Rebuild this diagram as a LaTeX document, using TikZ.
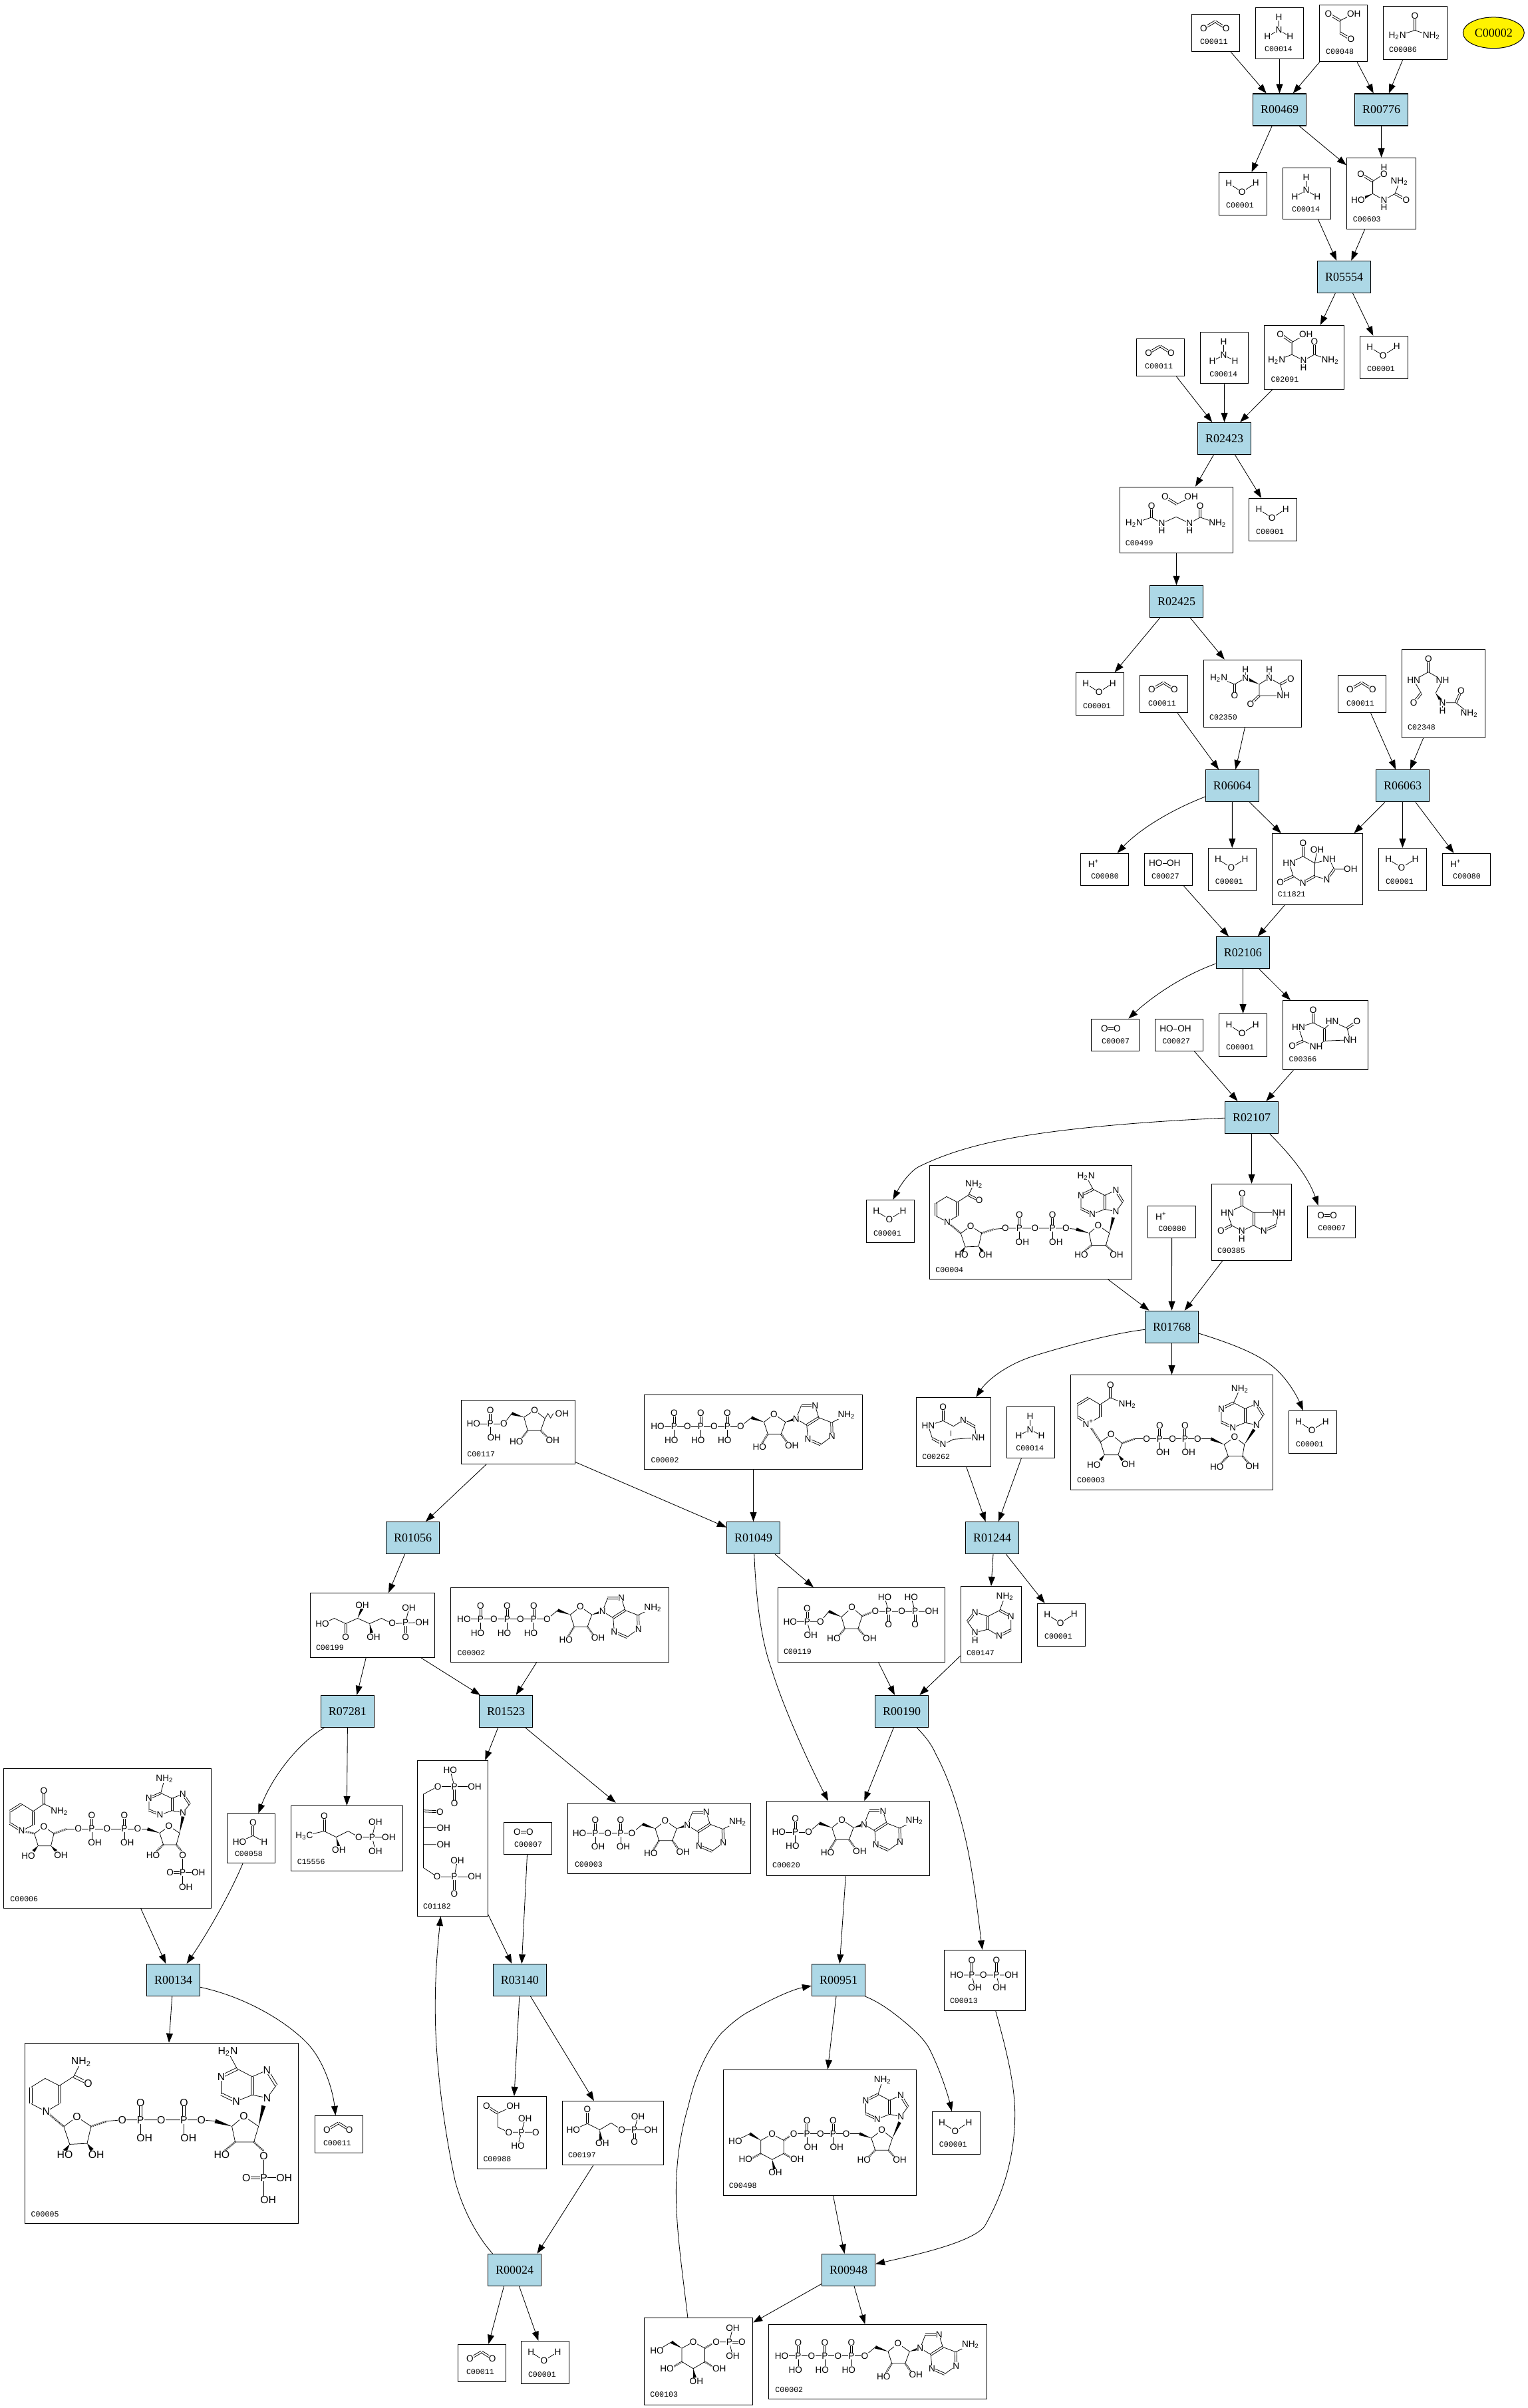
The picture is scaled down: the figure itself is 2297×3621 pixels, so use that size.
\documentclass[tikz,border=0pt]{standalone}
\usepackage{fontspec}
\setmainfont{Liberation Serif}
\newfontfamily\atomfont{Liberation Sans}
\newfontfamily\labfont{Liberation Mono}
\usetikzlibrary{arrows.meta,calc,shapes.geometric}
\definecolor{rxnblue}{RGB}{173,216,230}
\newcounter{atm}
\def\molpt{6.8}
\tikzset{
 rxn/.style={draw,fill=rxnblue,line width=0.6pt,minimum width=40pt,minimum height=24pt,inner sep=0pt,font=\fontsize{9}{9}\selectfont},
 cpd/.style={draw,fill=white,line width=0.55pt,inner sep=0pt},
 cplab/.style={anchor=west,inner sep=0pt,font=\labfont\fontsize{5.8}{5.8}\selectfont},
 atom/.style={inner sep=0.15pt,fill=white,font=\atomfont\fontsize{\molpt}{\molpt}\selectfont},
 bond/.style={line width=0.38pt},
 hashb/.style={line width=1.4pt,dash pattern=on 0.3pt off 0.5pt},
 edge/.style={line width=0.42pt,-{Triangle[length=7pt,width=5pt]}},
 target/.style={draw,fill=yellow,ellipse,line width=0.5pt,minimum width=46pt,minimum height=23.4pt,inner sep=0pt,font=\fontsize{9}{9}\selectfont}
}
\def\At(#1)#2{\stepcounter{atm}\node[atom] (at\arabic{atm}) at (#1) {#2};}
\def\Db(#1)(#2){\draw[bond] ($(#1)!0.75pt!90:(#2)$)--($(#2)!0.75pt!-90:(#1)$) ($(#1)!0.75pt!-90:(#2)$)--($(#2)!0.75pt!90:(#1)$);}
\def\Wd(#1)(#2){\fill ($(#2)!1.2pt!90:(#1)$)--($(#2)!1.2pt!-90:(#1)$)--(#1)--cycle;}
\def\Hs(#1)(#2){\draw[hashb] (#1)--(#2);}
\newcommand\Cpd[9]{%
 \pgfmathsetmacro\cw{(#4-#2)*0.5}\pgfmathsetmacro\ch{(#5-#3)*0.5}%
 \pgfmathsetmacro\cx{(#2+#4)/2}\pgfmathsetmacro\cy{(#3+#5)/2}%
 \node[cpd,minimum width=\cw pt,minimum height=\ch pt] (#1) at (\cx,\cy) {};
 \begin{scope}[shift={(#2,#3)}]
 #9
 \node[cplab] (lab#1) at (#7,#8) {#6};
 \end{scope}}
\newcommand\Rxn[3]{\node[rxn] (#1) at (#2,#3) {#1};}
\newcommand\Wat[3]{\pgfmathsetmacro\xb{#2+72}\pgfmathsetmacro\yb{#3+64}%
 \Cpd{#1}{#2}{#3}{\xb}{\yb}{C00001}{10.2}{49.8}{\draw[bond] (14.8,16.7)--(34.6,29.3)--(55.2,16);
 \At(14.8,16.7){H}\At(34.6,29.3){O}\At(55.2,16){H}}}
\newcommand\CCO[3]{\pgfmathsetmacro\xb{#2+72}\pgfmathsetmacro\yb{#3+56.3}%
 \Cpd{#1}{#2}{#3}{\xb}{\yb}{C00011}{12.2}{41.7}{\Db(18,21.3)(35.4,11)\Db(35.4,11)(51.8,21.3)
 \At(18,21.3){O}\At(51.8,21.3){O}}}
\newcommand\NHt[3]{\pgfmathsetmacro\xb{#2+72}\pgfmathsetmacro\yb{#3+77.2}%
 \Cpd{#1}{#2}{#3}{\xb}{\yb}{C00014}{13.3}{62.7}{\draw[bond] (35,14.7)--(35,34) (17.9,43.7)--(35,34)--(51.8,43.7);
 \At(35,14.7){H}\At(35,34){N}\At(17.9,43.7){H}\At(51.8,43.7){H}}}
\newcommand\Hyp[3]{\pgfmathsetmacro\xb{#2+72}\pgfmathsetmacro\yb{#3+48.2}%
 \Cpd{#1}{#2}{#3}{\xb}{\yb}{C00080}{15.3}{33.9}{\At(19.8,15.5){H\textsuperscript{+}}}}
\newcommand\Oxy[3]{\pgfmathsetmacro\xb{#2+72}\pgfmathsetmacro\yb{#3+48.2}%
 \Cpd{#1}{#2}{#3}{\xb}{\yb}{C00007}{15.3}{33.7}{\Db(20,14.7)(39,14.7)\At(20,14.7){O}\At(39,14.7){O}}}
\newcommand\Per[3]{\pgfmathsetmacro\xb{#2+72}\pgfmathsetmacro\yb{#3+48.2}%
 \Cpd{#1}{#2}{#3}{\xb}{\yb}{C00027}{10.4}{33.9}{\draw[bond] (17,14.7)--(42,14.7);\At(17,14.7){HO}\At(44,14.7){OH}}}
% phosphate with =O up
\newcommand\PUp[4]{\pgfmathsetmacro\pya{#2-20}\pgfmathsetmacro\pyb{#2+20.6}\pgfmathsetmacro\pxb{#1+#4}%
 \Db(#1,\pya)(#1,#2)
 \draw[bond] (#1,#2)--(#1,\pyb);
 \At(#1,#2){P}\At(#1,\pya){O}\At(\pxb,\pyb){#3}}
% flat adenine + ribose, origin = ring O
\newcommand\AMPcore{%
 \draw[bond] (0,0)--(-15,12)--(-9.3,30)--(10.7,30)--(17.3,12)--cycle;
 \Wd(-15,12)(-34,5.3)
 \draw[bond] (-34,5.3)--(-50,18.7);
 \Hs(-9.3,30)(-18,44)\Hs(10.7,30)(20,43)
 \Wd(17.3,12)(33.3,7)
 \draw[bond] (33.3,7)--(41,-13) (61.7,-13)--(67.3,5.3) (49.3,16.7)--(33.3,7) (49.3,16.7)--(51,37.7) (70,46)--(87.3,33.3) (86.7,12.7)--(67.3,5.3) (86.7,12.7)--(109,1.7);
 \Db(41,-13)(61.7,-13)\Db(67.3,5.3)(49.3,16.7)\Db(51,37.7)(70,46)\Db(87.3,33.3)(86.7,12.7)
 \At(0,0){O}\At(-50,18.7){O}\At(-21.7,49.3){HO}\At(26.7,47){OH}
 \At(33.3,7){N}\At(61.7,-13){N}\At(51,37.7){N}\At(87.3,33.3){N}\At(109,1.7){NH\textsubscript{2}}}
% upright adenine, origin = N9
\newcommand\AdeUp[3]{%
 \draw[bond] (0,0)--(10.5,-14.3) (-0.2,-31.7)--(-17,-24.3) (-17,-3.3)--(0,0) (-17,-3.3)--(-35.5,4) (-52.7,-4.3)--(-52.7,-24.3) (-34.3,-33.3)--(-17,-24.3) (-34.3,-33.3)--(#2,#3);
 \Db(10.5,-14.3)(-0.2,-31.7)\Db(-17,-24.3)(-17,-3.3)\Db(-35.5,4)(-52.7,-4.3)\Db(-52.7,-24.3)(-34.3,-33.3)
 \At(0,0){N}\At(-0.2,-31.7){N}\At(-35.5,4){N}\At(-52.7,-24.3){N}\At(#2,#3){#1}}
\newcommand\NADHbody[1]{%
 \draw[bond] (58.2,44.3)--(66.6,27.7) (58.2,44.3)--(41.7,55) (41.7,75.7)--(26.4,84.7)--(9.2,75.7) (9.2,56.7)--(25.3,46.7)--(41.7,55);
 \Db(58.2,44.3)(74.6,52.3)\Db(41.7,55)(41.7,75.7)\Db(9.2,75.7)(9.2,56.7)
 \draw[bond] (61.6,90.7)--(46.7,102)--(53.5,122.3)--(73.5,121.3)--(78,101.7)--cycle;
 \Hs(26.4,84.7)(46.7,102)\Hs(78,101.7)(96.4,95.7)
 \Wd(53.5,122.3)(48,130)\Wd(73.5,121.3)(79,129)
 \draw[bond] (96.4,95.7)--(113.7,94.3)--(204.7,94.3)--(220.4,95.7);
 \Wd(239.6,101.7)(220.4,95.7)
 \draw[bond] (253.3,90)--(239.6,101.7)--(243.4,119.7)--(264.8,119.7)--(270.2,101.7)--cycle;
 \Hs(243.4,119.7)(231,130)\Hs(264.8,119.7)(276,130)
 \Wd(270.2,101.7)(276,78)
 \At(66.6,27.7){NH\textsubscript{2}}\At(74.6,52.3){O}\At(26.4,84.7){N}\At(61.6,90.7){O}
 \At(48,134){HO}\At(84,134){OH}
 \At(113.7,94.3){O}\At(158.4,94.3){O}\At(204.7,94.3){O}
 \PUp{134.7}{94.3}{OH}{4.6}\PUp{184.5}{94.3}{OH}{5.3}
 \At(253.3,90){O}\At(228,134){HO}\At(280.9,134){#1}
 \begin{scope}[shift={(280,69)}]\AdeUp{H\textsubscript{2}N}{-45}{-53}\end{scope}}
\begin{document}
\begin{tikzpicture}[x=0.5pt,y=-0.5pt]
\path[use as bounding box,fill=white] (0,0) rectangle (2297,3621);
% ---------- top
\CCO{C00011a}{1791.4}{21.3}
\NHt{C00014a}{1887.4}{11.3}
\Cpd{C00048}{1983.3}{7.3}{2055.7}{92.7}{C00048}{9.5}{70.7}{%
 \Db(13.7,13.3)(31.2,23.7)\Db(31.2,42)(47.6,52)
 \draw[bond] (52,13.3)--(31.2,23.7)--(31.2,42);
 \At(13.7,13.3){O}\At(52,13.3){OH}\At(47.6,52){O}}
\Cpd{C00086}{2079.3}{9.3}{2175.6}{89.7}{C00086}{8.4}{65.7}{%
 \Db(47.6,14.7)(47.6,36.3)
 \draw[bond] (21.3,44.7)--(47.6,36.3)--(72.4,44.7);
 \At(47.6,14.7){O}\At(21.3,44.7){H\textsubscript{2}N}\At(72.4,44.7){NH\textsubscript{2}}}
\node[target] (C00002) at (2245.3,49.3) {C00002};
\Rxn{R00469}{1923.5}{165}
\Rxn{R00776}{2076.5}{165}
\Wat{C00001a}{1832.5}{259.3}
\NHt{C00014b}{1928.5}{252.3}
\Cpd{C00603}{2024.4}{237.3}{2128.8}{344.7}{C00603}{9.1}{92.7}{%
 \draw[bond] (56,14.3)--(56,24.3)--(39.2,35.3)--(39.2,54)--(56,63.3)--(72.7,54)--(79.2,36) (56,63.3)--(56,74.3);
 \Db(21.3,24.3)(39.2,35.3)\Db(72.7,54)(89.5,63.3)\Wd(39.2,54)(24,61)
 \At(56,14.3){H}\At(56,24.3){O}\At(21.3,24.3){O}\At(17,63.3){HO}\At(56,63.3){N}\At(56,74.3){H}
 \At(79.2,36){NH\textsubscript{2}}\At(89.5,63.3){O}}
\Rxn{R05554}{2020.5}{416.5}
\CCO{C00011b}{1708.6}{509.4}
\NHt{C00014c}{1804.6}{499.6}
\Cpd{C02091}{1900.6}{489.4}{2020.6}{585.3}{C02091}{9.5}{81.6}{%
 \Db(24,13)(41.5,25.3)\Db(75.3,24.5)(75.3,43.7)
 \draw[bond] (62.7,13)--(41.5,25.3)--(41.5,43.7)--(18.5,52.7) (41.5,43.7)--(59,52.7)--(75.3,43.7)--(99,52.7) (59,52.7)--(59,63.3);
 \At(24,13){O}\At(62.7,13){OH}\At(75.3,24.5){O}\At(18.5,52.7){H\textsubscript{2}N}\At(59,52.7){N}\At(59,63.3){H}\At(99,52.7){NH\textsubscript{2}}}
\Wat{C00001b}{2044.5}{505.3}
\Rxn{R02423}{1840.5}{659.4}
\Cpd{C00499}{1683.3}{732.2}{1853.7}{831.4}{C00499}{8.1}{84.9}{%
 \Db(68,15)(85.7,26)\draw[bond] (85.7,26)--(107.3,15);
 \Db(47.8,28.2)(47.8,45.7)\Db(120.8,28.2)(120.8,45.7)
 \draw[bond] (21.6,54.7)--(47.8,45.7)--(63.1,54.7)--(84.8,45)--(105,54.7)--(120.8,45.7)--(147,54.7) (63.1,54.7)--(63.1,66) (105,54.7)--(105,66);
 \At(68,15){O}\At(107.3,15){OH}\At(47.8,28.2){O}\At(120.8,28.2){O}\At(21.6,54.7){H\textsubscript{2}N}\At(63.1,54.7){N}\At(63.1,66){H}\At(105,54.7){N}\At(105,66){H}\At(147,54.7){NH\textsubscript{2}}}
\Wat{C00001c}{1877.6}{749.4}
\Rxn{R02425}{1768.5}{904.5}
\Wat{C00001d}{1617.5}{1011.4}
\CCO{C00011c}{1713.5}{1015.5}
\Cpd{C02350}{1809.6}{992.2}{1956.5}{1093.5}{C02350}{8.1}{86.5}{%
 \Db(46.4,36.7)(46.4,53.9)\Db(115,36.7)(130.7,28.2)\Db(83.4,53.9)(70.3,66.5)
 \draw[bond] (22.5,27.3)--(46.4,36.7)--(62.7,27.3) (62.7,14.3)--(62.7,27.3) (98.3,14.3)--(98.3,27.3)--(83.4,36.7)--(83.4,53.9)--(119.5,53.9)--(115,36.7)--(98.3,27.3);
 \Wd(83.4,36.7)(66,29)
 \At(22.5,27.3){H\textsubscript{2}N}\At(46.4,53.9){O}\At(62.7,27.3){N}\At(62.7,14.3){H}\At(98.3,27.3){N}\At(98.3,14.3){H}\At(130.7,28.2){O}\At(119.5,53.9){NH}\At(70.3,66.5){O}}
\CCO{C00011d}{2011.5}{1015.5}
\Cpd{C02348}{2107.6}{976.7}{2232.5}{1109.4}{C02348}{8.1}{117}{%
 \Db(39.7,14.3)(39.7,33.9)\Db(28.9,65.7)(17.6,79.6)\Db(81,80)(88.8,62.4)
 \draw[bond] (17.6,46)--(39.7,33.9)--(60.9,46)--(50.5,65.7) (17.6,46)--(28.9,65.7) (60.9,80)--(81,80)--(101,96.3) (60.9,80)--(60.9,92.2);
 \Wd(50.5,65.7)(58,76)
 \At(39.7,14.3){O}\At(17.6,46){HN}\At(60.9,46){NH}\At(17.6,79.6){O}\At(60.9,80){N}\At(60.9,92.2){H}\At(88.8,62.4){O}\At(101,96.3){NH\textsubscript{2}}}
\Rxn{R06064}{1852.4}{1181.6}
\Rxn{R06063}{2108.5}{1181.6}
\Hyp{C00080a}{1624.3}{1283.3}
\Per{C00027a}{1720.3}{1283.3}
\Wat{C00001e}{1816.3}{1275.5}
\Cpd{C11821}{1912.4}{1253.5}{2048.5}{1360.4}{C11821}{8.1}{91.4}{%
 \Db(46.4,13.9)(46.4,34.3)\Db(31.6,64)(12.2,73)\Db(46.4,73.9)(64,64)\Db(93.3,53.5)(82,69)
 \draw[bond] (25.7,44)--(46.4,34.3)--(64,44.5)--(64,64)--(82,69) (25.7,44)--(31.6,64)--(46.4,73.9) (64,44.5)--(67.6,24) (64,44.5)--(85.7,38.4)--(93.3,53.5)--(118,53.5);
 \At(46.4,13.9){O}\At(25.7,44){HN}\At(12.2,73){O}\At(46.4,73.9){N}\At(67.6,24){OH}\At(85.7,38.4){NH}\At(118,53.5){OH}\At(82,69){N}}
\Wat{C00001f}{2072.4}{1275.5}
\Hyp{C00080b}{2168.4}{1283.3}
\Rxn{R02106}{1868.4}{1432.6}
\Oxy{C00007a}{1640.5}{1532.2}
\Per{C00027b}{1736.5}{1532.2}
\Wat{C00001g}{1832.6}{1524.5}
\Cpd{C00366}{1928.6}{1504.5}{2056.6}{1608.6}{C00366}{8.6}{88.6}{%
 \Db(45.5,14.3)(45.5,33.5)\Db(30.2,60.8)(14,68.2)\Db(96.5,41.6)(111.4,31.4)\Db(62.7,60.8)(62.7,42.4)
 \draw[bond] (23.4,40.4)--(45.5,33.5)--(62.7,42.4)--(74,31.4)--(96.5,41.6)--(101,59.2)--(62.7,60.8)--(50,69)--(30.2,60.8)--(23.4,40.4);
 \At(45.5,14.3){O}\At(23.4,40.4){HN}\At(14,68.2){O}\At(50,69){NH}\At(74,31.4){HN}\At(111.4,31.4){O}\At(101,59.2){NH}}
\Rxn{R02107}{1881.5}{1680.4}
\Wat{C00001h}{1302.4}{1804.4}
\Cpd{C00004}{1397.6}{1752.7}{1701.5}{1923.3}{C00004}{8.4}{156.7}{\NADHbody{OH}}
\Hyp{C00080c}{1725.6}{1813.3}
\Cpd{C00385}{1821.3}{1780.3}{1941.8}{1895.3}{C00385}{8.4}{100.7}{%
 \Db(46,14.7)(46,33)\Db(30.2,62.3)(14.2,70.3)\Db(63.1,62.3)(63.1,43)\Db(96.4,62.3)(78.4,70.7)
 \draw[bond] (23.7,43)--(46,33)--(63.1,43)--(101,43)--(96.4,62.3) (23.7,43)--(30.2,62.3)--(45.5,70.7)--(63.1,62.3)--(78.4,70.7) (45.5,70.7)--(45.5,82);
 \At(46,14.7){O}\At(23.7,43){HN}\At(14.2,70.3){O}\At(45.5,70.7){N}\At(45.5,82){H}\At(101,43){NH}\At(78.4,70.7){N}}
\Oxy{C00007b}{1965.6}{1813.3}
\Rxn{R01768}{1761.5}{1995.3}
\Cpd{C00262}{1377.6}{2101.4}{1489.5}{2205.5}{C00262}{8.3}{89.4}{%
 \Db(40,14.7)(40,35)\Db(24,61.6)(40,70.6)\Db(70.4,33.9)(87.8,44)
 \draw[bond] (17.8,42.4)--(40,35)--(55.8,43.3)--(70.4,33.9) (87.8,44)--(90,60.4)--(55.8,62.9)--(40,70.6) (17.8,42.4)--(24,61.6) (52,50)--(52,58);
 \At(40,14.7){O}\At(17.8,42.4){HN}\At(40,70.6){N}\At(70.4,33.9){N}\At(93,60.4){NH}}
\NHt{C00014d}{1513.6}{2115.3}
\Cpd{C00003a}{1609.3}{2067.6}{1913.7}{2240.6}{C00003}{9.5}{158.4}{%
 \draw[bond] (26.5,73)--(44.3,62.9) (44.3,44.5)--(27.3,34.3) (10.7,44.5)--(10.7,62.9) (44.3,44.5)--(60,34.3)--(85.4,44.5);
 \Db(44.3,62.9)(44.3,44.5)\Db(27.3,34.3)(10.7,44.5)\Db(10.7,62.9)(26.5,73)\Db(60,34.3)(60,14.7)
 \Hs(26.5,73)(45,100.8)\Hs(77.5,102.4)(96.5,96)
 \draw[bond] (60.9,89.4)--(45,100.8)--(51,120)--(71.6,120)--(77.5,102.4)--cycle;
 \Wd(51,120)(45,128)\Wd(71.6,120)(78,128)
 \draw[bond] (96.5,96)--(211,96);\Wd(231,104.5)(211,96)
 \draw[bond] (246.7,93.5)--(231,104.5)--(236.9,122)--(258.6,122)--(261.4,104.5)--cycle;
 \Hs(236.9,122)(226,133)\Hs(258.6,122)(268,133)\Wd(261.4,104.5)(276,82)
 \At(60,14.7){O}\At(85.4,44.5){NH\textsubscript{2}}\At(26.5,73){N\textsuperscript{+}}\At(60.9,89.4){O}\At(35,135){HO}\At(87,134){OH}
 \At(114.3,96){O}\At(153.4,96){O}\At(191,96){O}
 \PUp{134}{96}{OH}{5}\PUp{172}{96}{OH}{5.5}
 \At(246.7,93.5){O}\At(220,138.4){HO}\At(273.2,137){OH}
 \begin{scope}[shift={(279.4,75)}]\AdeUp{NH\textsubscript{2}}{-24.8}{-54.2}\end{scope}}
\Wat{C00001i}{1937.5}{2121.4}
\Rxn{R01244}{1491.6}{2312.6}
\Cpd{C00147}{1444.3}{2385.5}{1535.7}{2500.2}{C00147}{8.3}{100.4}{%
 \draw[bond] (66.4,15)--(58.5,36) (75.5,45)--(75.5,65.3) (57.7,74.7)--(41,64.5) (58.5,36)--(41,45) (41,45)--(21.4,38.8) (10,53)--(21.4,69.4)--(41,64.5) (21.4,69.4)--(21.4,81.6);
 \Db(58.5,36)(75.5,45)\Db(75.5,65.3)(57.7,74.7)\Db(41,64.5)(41,45)\Db(21.4,38.8)(10,53)
 \At(66.4,15){NH\textsubscript{2}}\At(75.5,45){N}\At(57.7,74.7){N}\At(21.4,38.8){N}\At(21.4,69.4){N}\At(21.4,81.6){H}}
\Wat{C00001j}{1559.5}{2411.2}
% ---------- middle
\Cpd{C00117}{693.5}{2105.2}{864.3}{2201.3}{C00117}{8.4}{81.9}{%
 \begin{scope}[shift={(110.2,15.3)}]
 \draw[bond] (0,0)--(-16,10.7)--(-10.5,30.6)--(9.2,30.6)--(15.6,12.6)--cycle;
 \Wd(-16,10.7)(-34.4,5)\draw[bond] (-34.4,5)--(-46.4,20.7)--(-92,20.7) (15.6,12.6)--(20,5)--(24,12)--(28,5);
 \Hs(-10.5,30.6)(-20,43)\Hs(9.2,30.6)(20,42)
 \At(0,0){O}\At(-46.4,20.7){O}\At(-92,20.7){HO}\At(-27.5,47){HO}\At(27,45.5){OH}\At(41,5){OH}
 \PUp{-66.6}{20.7}{OH}{5.6}
 \end{scope}}
\Cpd{C00002a}{968.5}{2097.6}{1296.4}{2209.3}{C00002}{9.8}{97.9}{%
 \begin{scope}[shift={(195,28.8)}]
 \draw[bond] (-50,18.7)--(-175,18.7);
 \AMPcore
 \At(-90,18.7){O}\At(-130,18.7){O}\At(-175,18.7){HO}
 \PUp{-70}{18.7}{HO}{-4.3}\PUp{-110}{18.7}{HO}{-4.3}\PUp{-150}{18.7}{HO}{-4.3}
 \end{scope}}
\Rxn{R01056}{620.5}{2312.5}
\Rxn{R01049}{1132.5}{2312.5}
\Cpd{C00199}{466.6}{2395.5}{653.7}{2492.5}{C00199}{8}{82}{%
 \draw[bond] (18,46)--(36,38)--(53,46)--(71,38)--(89,46)--(107,38)--(123,46)--(168,44) (143,44)--(148,24);
 \Db(53,46)(53,64)\Db(143,44)(143,64)\Wd(71,38)(78,22)\Wd(89,46)(92,60)
 \At(18,46){HO}\At(53,66){O}\At(78,18){OH}\At(95,66){OH}\At(123,45){O}\At(143,44){P}\At(143,66){O}\At(168,44){OH}\At(148,22){OH}}
\Cpd{C00002b}{677.4}{2387.3}{1005.7}{2499.4}{C00002}{9.8}{97.9}{%
 \begin{scope}[shift={(195,28.8)}]
 \draw[bond] (-50,18.7)--(-175,18.7);
 \AMPcore
 \At(-90,18.7){O}\At(-130,18.7){O}\At(-175,18.7){HO}
 \PUp{-70}{18.7}{HO}{-4.3}\PUp{-110}{18.7}{HO}{-4.3}\PUp{-150}{18.7}{HO}{-4.3}
 \end{scope}}
\Cpd{C00119}{1169.3}{2387.3}{1420.7}{2499.6}{C00119}{8.3}{96.6}{%
 \begin{scope}[shift={(111.4,29.8)}]
 \draw[bond] (0,0)--(-15.7,14.3)--(-10.7,31.8)--(9.3,31.8)--(15.3,13)--cycle;
 \Wd(-15.7,14.3)(-34.7,6)\draw[bond] (-34.7,6)--(-47.3,21.2)--(-93,21.2) (-67.3,21.2)--(-62,41.6) (35.3,6)--(120,6) (55,6)--(49.3,-15) (95,6)--(89,-15);
 \Db(-67.3,21.2)(-67.3,2)\Db(55,6)(55,25.6)\Db(95,6)(95,25.6)
 \Hs(-10.7,31.8)(-20,43)\Hs(9.3,31.8)(19,43)\Hs(15.3,13)(30,7)
 \At(0,0){O}\At(-47.3,21.2){O}\At(-67.3,21.2){P}\At(-93,21.2){HO}\At(-67.3,2){O}\At(-62,41.6){OH}\At(-27.3,46.9){HO}\At(26.7,46.9){OH}
 \At(35.3,6){O}\At(55,6){P}\At(49.3,-15){HO}\At(55,25.6){O}\At(75,6){O}\At(95,6){P}\At(89,-15){HO}\At(95,25.6){O}\At(120,6){OH}
 \end{scope}}
\Rxn{R07281}{522.4}{2573.5}
\Rxn{R01523}{760.5}{2573.5}
\Rxn{R00190}{1355.5}{2573.5}
\Cpd{C15556}{437.4}{2715.5}{605.4}{2813.5}{C15556}{9}{84.5}{%
 \draw[bond] (20,45)--(50,38)--(68,47)--(86,38)--(102,47)--(147,47) (122,47)--(127,25) (122,47)--(127,68);
 \Db(50,38)(50,17)\Wd(68,47)(72,62)
 \At(20,45){H\textsubscript{3}C}\At(50,15){O}\At(72,66){OH}\At(102,47){O}\At(122,47){P}\At(127,24){OH}\At(147,47){OH}\At(127,68){OH}}
\Cpd{C00058}{341.3}{2727.3}{413.7}{2801.6}{C00058}{11.3}{60.4}{%
 \Db(39,13.9)(39,33)\draw[bond] (18.7,42.4)--(39,33)--(56,42.4);
 \At(39,13.9){O}\At(18.7,42.4){HO}\At(56,42.4){H}}
\Cpd{C00006}{5.3}{2659.6}{317.7}{2869.4}{C00006}{9.7}{196.3}{%
 \draw[bond] (27.3,93.5)--(44.7,84.5) (44.7,64)--(27,53) (9.7,64)--(9.7,82.4) (44.7,64)--(60.7,53)--(84,64);
 \Db(44.7,84.5)(44.7,64)\Db(27,53)(9.7,64)\Db(9.7,82.4)(27.3,93.5)\Db(60.7,53)(60.7,32.7)
 \Hs(27.3,93.5)(46.3,97.6)\Hs(75.7,97.6)(94.7,90.6)
 \draw[bond] (60.7,87.3)--(46.3,97.6)--(52,116)--(71.3,116)--(75.7,97.6)--cycle;
 \Wd(52,116)(45,124)\Wd(71.3,116)(79,124)
 \draw[bond] (94.7,90.6)--(216.3,90.6);\Wd(234.7,96.7)(216.3,90.6)
 \draw[bond] (248.7,86.5)--(234.7,96.7)--(240.3,114.3)--(259.7,114.3)--(264.7,96.7)--cycle;
 \Hs(240.3,114.3)(230,124)\Hs(259.7,114.3)(268,124)\Wd(264.7,96.7)(269.7,72)
 \draw[bond] (269.3,130.2)--(269.3,178) (269.3,156)--(293,156);
 \Db(269.3,156)(250.3,156)
 \At(60.7,32.7){O}\At(84,64){NH\textsubscript{2}}\At(27.3,93.5){N}\At(60.7,87.3){O}\At(37.3,131.4){HO}\At(86.3,129.8){OH}
 \At(112.3,90.6){O}\At(155.7,90.6){O}\At(201.7,90.6){O}
 \PUp{132.7}{90.6}{OH}{4.6}\PUp{181.7}{90.6}{OH}{4.3}
 \At(248.7,86.5){O}\At(224.7,130.2){HO}\At(269.3,130.2){O}\At(269.3,156){P}\At(250.3,156){O}\At(293,156){OH}\At(274,178){OH}
 \begin{scope}[shift={(269.7,66)},xscale=.97,yscale=.88]\AdeUp{NH\textsubscript{2}}{-28.4}{-58}\end{scope}}
\Rxn{R00134}{260.5}{2977.4}
\Cpd{C00005}{37.3}{3072.2}{448.7}{3343.4}{C00005}{9}{257}{%
 \def\molpt{7.9}
 \begin{scope}[shift={(-2.6,-8)},scale=1.31]\NADHbody{}\end{scope}
 \draw[bond] (359.3,170)--(359.3,236) (359.3,202.5)--(390,202.5);
 \Db(359.3,202.5)(333,202.5)
 \At(359.3,170){O}\At(359.3,202.5){P}\At(333,202.5){O}\At(390,202.5){OH}\At(366,236){OH}}
\CCO{C00011e}{473.4}{3181.4}
\Cpd{C01182}{627.5}{2647.4}{733.2}{2881.4}{C01182}{8.2}{219.7}{%
 \draw[bond] (30.7,39)--(9,50.5)--(9,161.2)--(29.6,174.7) (9,101)--(39.3,101) (9,126.3)--(39.3,126.3) (30.7,39)--(86,39) (55.7,39)--(49.3,14.7) (29.6,174.7)--(86,174.7) (55.4,174.7)--(60,150.3);
 \Db(9,75.8)(34,77)\Db(55.7,39)(55.7,64.4)\Db(55.4,174.7)(55.4,200)
 \At(49.3,14.7){HO}\At(30.7,39){O}\At(55.7,39){P}\At(86,39){OH}\At(55.7,64.4){O}\At(34,77){O}\At(39.3,101){OH}\At(39.3,126.3){OH}\At(29.6,174.7){O}\At(55.4,174.7){P}\At(60,150.3){OH}\At(86,174.7){OH}\At(55.4,200){O}}
\Cpd{C00003b}{853.2}{2711.3}{1128.6}{2817.4}{C00003}{10.4}{92.6}{%
 \begin{scope}[shift={(146.8,26.5)}]
 \draw[bond] (-50,18.7)--(-129,18.7);
 \AMPcore
 \At(-86,18.7){O}\At(-129,18.7){HO}
 \PUp{-67}{18.7}{OH}{4}\PUp{-105}{18.7}{OH}{4}
 \end{scope}}
\Cpd{C00020}{1152.3}{2708.6}{1397.7}{2820.4}{C00020}{8.4}{96.3}{%
 \begin{scope}[shift={(113.4,27.7)}]
 \draw[bond] (-50,18.7)--(-95,18.7);
 \AMPcore
 \At(-95,18.7){HO}
 \PUp{-70}{18.7}{HO}{-4.3}
 \end{scope}}
\Oxy{C00007c}{757.5}{2740.4}
\Rxn{R03140}{781.4}{2977.4}
\Rxn{R00951}{1260.5}{2977.4}
\Cpd{C00013}{1419.3}{2932.3}{1541.7}{3023.3}{C00013}{8.3}{76.7}{%
 \draw[bond] (19,37.7)--(101.3,37.7) (41.7,37.7)--(46.3,56.7) (78.7,37.7)--(83.3,56.7);
 \Db(41.7,15)(41.7,37.7)\Db(78.7,15)(78.7,37.7)
 \At(19,37.7){HO}\At(41.7,37.7){P}\At(41.7,15){O}\At(46.3,56.7){OH}\At(59,37.7){O}\At(78.7,37.7){P}\At(78.7,15){O}\At(83.3,56.7){OH}\At(101.3,37.7){OH}}
\Cpd{C00988}{717.5}{3152.4}{821.8}{3261.4}{C00988}{8.6}{94.3}{%
 \Db(14,14.7)(30.7,25.3)\draw[bond] (54,14.7)--(30.7,25.3)--(30.7,46.3)--(47.5,53.9)--(87.9,53.9) (66.4,53.9)--(71.8,33.7) (66.4,53.9)--(61,74);
 \At(14,14.7){O}\At(54,14.7){OH}\At(47.5,53.9){O}\At(66.4,53.9){P}\At(71.8,33.7){OH}\At(87.9,53.9){O}\At(61,74){HO}}
\Cpd{C00197}{845.4}{3159.6}{997.5}{3255.5}{C00197}{8.2}{81.2}{%
 \Db(37.5,12.6)(37.5,33.7)\Db(108.2,43)(108.2,61.4)\Wd(56,43)(58,58)
 \draw[bond] (16.4,43)--(37.5,33.7)--(56,43)--(73.2,32.8)--(89.3,43)--(133.2,43) (108.2,43)--(113.6,23.6);
 \At(37.5,12.6){O}\At(16.4,43){HO}\At(60,63){OH}\At(89.3,43){O}\At(108.2,43){P}\At(113.6,23.6){OH}\At(108.2,61.4){O}\At(133.2,43){OH}}
\Cpd{C00498}{1087.2}{3112.2}{1377.4}{3301.2}{C00498}{8.3}{174.9}{%
 \Wd(56.5,106.3)(40,96.3)\draw[bond] (18.2,107.4)--(40,96.3) (73.5,97)--(56.5,106.3)--(56.5,126)--(73.5,135.2)--(91,126)--(91,106.3)--cycle;
 \Hs(56.5,126)(42,134)\Hs(91,126)(103,133)\Wd(73.5,135.2)(77,150)\Hs(91,106.3)(100,100)
 \draw[bond] (106,96.3)--(204.8,96.3);\Wd(222.6,103)(204.8,96.3)
 \draw[bond] (238.4,90.8)--(222.6,103)--(228.5,121)--(248.3,121)--(254.3,103)--cycle;
 \Hs(228.5,121)(218,132)\Hs(248.3,121)(258,132)\Wd(254.3,103)(265.3,79)
 \At(18.2,107.4){HO}\At(73.5,97){O}\At(33.6,134.5){HO}\At(111,134.5){OH}\At(78.3,154.5){OH}\At(106,96.3){O}\At(146.3,96.3){O}\At(185,96.3){O}
 \PUp{126}{96.3}{OH}{5.7}\PUp{165.3}{96.3}{OH}{5.2}
 \At(238.4,90.8){O}\At(211.5,136){HO}\At(265.3,136){OH}
 \begin{scope}[shift={(267,70.4)}]\AdeUp{NH\textsubscript{2}}{-27.4}{-54.8}\end{scope}}
\Wat{C00001k}{1401.3}{3175.3}
\Rxn{R00024}{773.5}{3413.4}
\Rxn{R00948}{1275.5}{3413.4}
\CCO{C00011f}{688.4}{3525.4}
\Wat{C00001l}{783.4}{3520.4}
\Cpd{C00103}{968.6}{3485.4}{1131.5}{3616.5}{C00103}{8.3}{115.6}{%
 \Wd(56.5,45.6)(40.7,36.3)\draw[bond] (19,49.3)--(40.7,36.3) (73.5,36.3)--(56.5,45.6)--(56.5,66)--(73.5,76.3)--(91,66)--(91,45.6)--cycle;
 \Hs(56.5,66)(43,74)\Hs(91,66)(104,74)\Wd(73.5,76.3)(76,90)\Hs(91,45.6)(102,39)
 \draw[bond] (108,36.3)--(127.7,36.3) (132.9,15.6)--(127.7,36.3)--(132.9,57.4);
 \Db(127.7,36.3)(146.7,36.3)
 \At(19,49.3){HO}\At(73.5,36.3){O}\At(34,76){HO}\At(112.7,76){OH}\At(78.3,95.6){OH}\At(108,36.3){O}\At(127.7,36.3){P}\At(146.7,36.3){O}\At(132.9,15.6){OH}\At(132.9,57.4){OH}}
\Cpd{C00002c}{1155.2}{3495.4}{1483.8}{3607.2}{C00002}{9.8}{97.9}{%
 \begin{scope}[shift={(194.8,28.6)}]
 \draw[bond] (-50,18.7)--(-175,18.7);
 \AMPcore
 \At(-90,18.7){O}\At(-130,18.7){O}\At(-175,18.7){HO}
 \PUp{-70}{18.7}{HO}{-4.3}\PUp{-110}{18.7}{HO}{-4.3}\PUp{-150}{18.7}{HO}{-4.3}
 \end{scope}}
% ---------- connectors
\newcommand\EE[4]{\draw[edge] ($(#1.south)+(#2,0)$) -- ($(#3.north)+(#4,0)$);}
\EE{C00011a}{22.8}{R00469}{-19.8}
\EE{C00014a}{0}{R00469}{0}
\EE{C00048}{-35.8}{R00469}{20.2}
\EE{C00048}{20.5}{R00776}{-11.7}
\EE{C00086}{-18.9}{R00776}{11.2}
\EE{R00469}{-11.4}{C00001a}{13}
\draw[edge] ($(R00469.south)+(29.7,0)$) -- ($(C00603.west)+(0,-42.7)$);
\EE{R00776}{0}{C00603}{0}
\EE{C00014b}{17}{R05554}{-11.3}
\EE{C00603}{-25.1}{R05554}{10.8}
\EE{R05554}{-13.2}{C02091}{24.2}
\EE{R05554}{13.1}{C00001b}{-16.2}
\EE{C00011b}{23.9}{R02423}{-18.3}
\EE{C00014c}{0}{R02423}{0}
\EE{C02091}{-47.8}{R02423}{23.6}
\EE{R02423}{-16.1}{C00499}{28.5}
\EE{R02423}{16}{C00001c}{-17.4}
\EE{C00499}{0}{R02425}{0}
\EE{R02425}{-24.8}{C00001d}{22.2}
\EE{R02425}{20.8}{C02350}{-42.3}
\EE{C00011c}{20.7}{R06064}{-20.3}
\EE{C02350}{-11.7}{R06064}{5}
\EE{C00011d}{13.1}{R06063}{-10.4}
\EE{C02348}{-30.4}{R06063}{11.3}
\draw[edge] ($(R06064.west)+(0,16.4)$) .. controls (1755,1220) and (1710,1250) .. ($(C00080a.north)+(19.3,0)$);
\EE{R06064}{0}{C00001e}{0}
\EE{R06064}{26}{C11821}{-54.5}
\EE{R06063}{-26.6}{C11821}{55}
\EE{R06063}{0}{C00001f}{0}
\EE{R06063}{19.4}{C00080b}{-18.9}
\EE{C00027a}{23}{R02106}{-21.4}
\EE{C11821}{-49.1}{R02106}{22.3}
\draw[edge] ($(R02106.west)+(0,16.4)$) .. controls (1770,1470) and (1725,1505) .. ($(C00007a.north)+(19.9,0)$);
\EE{R02106}{0}{C00001g}{0}
\EE{R02106}{24.6}{C00366}{-52.7}
\EE{C00027b}{23}{R02107}{-21}
\EE{C00366}{-48.2}{R02107}{21.8}
\draw[edge] ($(R02107.west)+(0,0.8)$) .. controls (1750,1685) and (1660,1692) .. (1590,1700.8) .. controls (1510,1711) and (1440,1725) .. (1380,1755) .. controls (1365,1764) and (1352,1785) .. ($(C00001h.north)+(4,0)$);
\EE{R02107}{0}{C00385}{0}
\draw[edge] ($(R02107.south)+(27.3,0)$) .. controls (1935,1732) and (1965,1765) .. ($(C00007b.north)+(-20,0)$);
\EE{C00004}{116}{R01768}{-34}
\EE{C00080c}{0}{R01768}{0}
\EE{C00385}{-43.8}{R01768}{19.2}
\draw[edge] ($(R01768.west)+(0,4)$) .. controls (1680,2004) and (1615,2020) .. (1554,2039) .. controls (1510,2053) and (1482,2078) .. ($(C00262.north)+(33.8,0)$);
\EE{R01768}{0}{C00003a}{0}
\draw[edge] ($(R01768.east)+(0,9.7)$) .. controls (1850,2020) and (1890,2035) .. (1913.3,2054.9) .. controls (1935,2072) and (1950,2100) .. ($(C00001i.north)+(-14.7,0)$);
\EE{C00262}{19.2}{R01244}{-10}
\EE{C00014d}{-14.3}{R01244}{9.3}
\EE{R01244}{1.4}{C00147}{0}
\EE{R01244}{20.8}{C00001j}{-25}
\draw[edge] ($(C00147.west)+(0,47)$) -- ($(R00190.north)+(26.8,0)$);
\EE{C00117}{-47.7}{R01056}{19.5}
\draw[edge] ($(C00117.east)+(0,45.3)$) -- ($(R01049.west)+(0,-15.9)$);
\EE{C00002a}{0}{R01049}{0}
\EE{R01049}{32.5}{C00119}{-72.1}
\draw[edge] ($(R01049.south)+(1.3,0)$) .. controls (1137,2420) and (1147,2475) .. (1160,2510) .. controls (1178,2570) and (1220,2660) .. ($(C00020.north)+(-30,0)$);
\EE{R01056}{-12}{C00199}{24}
\EE{C00002b}{-35}{R01523}{15.2}
\EE{C00199}{73}{R01523}{-38.5}
\EE{C00199}{-10}{R07281}{14}
\draw[edge] ($(R07281.south)+(-35,0)$) .. controls (450,2620) and (410,2670) .. ($(C00058.north)+(10.8,0)$);
\EE{R07281}{0}{C15556}{0}
\EE{C00006}{50.2}{R00134}{-11.2}
\draw[edge] ($(C00058.south)+(-12.5,0)$) .. controls (345,2850) and (310,2910) .. ($(R00134.north)+(20.2,0)$);
\EE{R00134}{-1.8}{C00005}{11}
\draw[edge] ($(R00134.east)+(0,10.8)$) .. controls (370,3003) and (430,3040) .. (460,3070.6) .. controls (485,3095) and (500,3140) .. ($(C00011e.north)+(-5,0)$);
\EE{R01523}{-11.9}{C01182}{49}
\EE{R01523}{29.4}{C00003b}{-65.2}
\EE{C00119}{25.7}{R00190}{-10.5}
\EE{R00190}{-12.2}{C00020}{24.3}
\draw[edge] ($(R00190.south)+(22.8,0)$) .. controls (1390,2610) and (1400,2622) .. (1406.7,2637.6) .. controls (1435,2690) and (1452,2760) .. (1460,2809) .. controls (1467,2850) and (1472,2895) .. ($(C00013.north)+(-3.8,0)$);
\EE{C00020}{-3.7}{R00951}{1.8}
\EE{R00951}{-3.5}{C00498}{12}
\draw[edge] ($(R00951.south)+(40,0)$) .. controls (1325,3012) and (1345,3028) .. (1363.3,3043.3) .. controls (1380,3058) and (1390,3068) .. (1396.7,3080) .. controls (1413,3112) and (1425,3150) .. ($(C00001k.north)+(-6.5,0)$);
\EE{C00498}{20.2}{R00948}{-6}
\draw[edge] ($(C00013.south)+(16.2,0)$) .. controls (1512,3080) and (1525,3130) .. (1525.7,3176.7) .. controls (1526,3240) and (1510,3295) .. (1480,3348) .. controls (1460,3372) and (1380,3390) .. ($(R00948.east)+(0,-9)$);
\draw[edge] ($(R00948.west)+(0,21)$) -- ($(C00103.east)+(0,-58.5)$);
\EE{R00948}{8.6}{C00002c}{-19.2}
\draw[edge] ($(C00103.north)+(-16.2,0)$) .. controls (1025,3410) and (1016,3350) .. (1016.4,3292) .. controls (1017,3240) and (1025,3200) .. (1035,3166) .. controls (1045,3120) and (1065,3080) .. (1084,3057.7) .. controls (1100,3042) and (1115,3030) .. (1130,3022.7) .. controls (1160,3006) and (1190,2992) .. ($(R00951.west)+(0,8.7)$);
\draw[edge] ($(C01182.east)+(0,114.4)$) -- ($(R03140.north)+(-12,0)$);
\EE{C00007c}{-1}{R03140}{2.9}
\EE{R03140}{-0.6}{C00988}{3.3}
\EE{R03140}{16.1}{C00197}{-28.5}
\EE{C00197}{-29.6}{R00024}{34}
\draw[edge] ($(R00024.north)+(-33,0)$) .. controls (715,3360) and (695,3320) .. (684.3,3280) .. controls (665,3190) and (654,3090) .. (654.3,3020) .. controls (654,2970) and (658,2925) .. ($(C01182.south)+(-17.9,0)$);
\EE{R00024}{-16}{C00011f}{10}
\EE{R00024}{7}{C00001l}{-10}
\end{tikzpicture}
\end{document}
